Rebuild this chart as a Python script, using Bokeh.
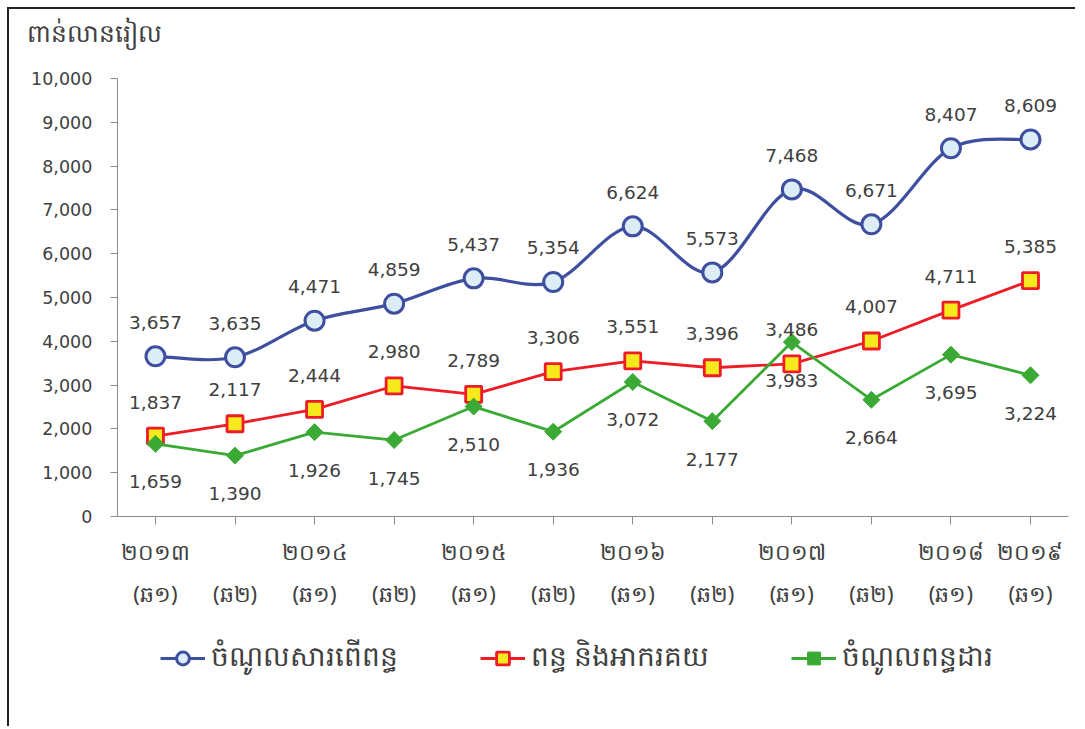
import math
from bokeh.plotting import figure
from bokeh.models import (FixedTicker, LinearAxis, Legend, LegendItem, Label,
                          ColumnDataSource, NumeralTickFormatter, Range1d)
from bokeh.core.properties import value
from bokeh.embed import file_html
from bokeh.resources import INLINE

# ---------------- data ----------------
years = ["២០១៣", "", "២០១៤", "", "២០១៥", "", "២០១៦", "", "២០១៧", "", "២០១៨", "២០១៩"]
halves = ["(ឆ១)", "(ឆ២)", "(ឆ១)", "(ឆ២)", "(ឆ១)", "(ឆ២)", "(ឆ១)", "(ឆ២)", "(ឆ១)", "(ឆ២)", "(ឆ១)", "(ឆ១)"]
tax_revenue = [3657, 3635, 4471, 4859, 5437, 5354, 6624, 5573, 7468, 6671, 8407, 8609]
customs = [1837, 2117, 2444, 2980, 2789, 3306, 3551, 3396, 3486, 4007, 4711, 5385]
tax_dept = [1659, 1390, 1926, 1745, 2510, 1936, 3072, 2177, 3983, 2664, 3695, 3224]
series_names = ["ចំណូលសារពើពន្ធ", "ពន្ធ និងអាករគយ", "ចំណូលពន្ធដារ"]
unit_title = "ពាន់លានរៀល"
y_ticks = list(range(0, 10001, 1000))

xs = list(range(len(halves)))

BLUE = "#3e4fa0"
RED = "#ee1c25"
GREEN = "#3aaa35"
TXT = "#404040"
AX = "#8c8c8c"
NUMFONT = "DejaVu Sans"
KHFONT = "Noto Sans"

# plotting area spans the whole canvas; axes are pinned inside it
X0, X1 = -0.48, 11.48          # category axis extent
Y0, Y1 = 0, 10000              # value axis extent
p = figure(width=1068, height=719, output_backend="svg", toolbar_location=None,
           x_range=Range1d(-1.835, 11.591), y_range=Range1d(-4840, 11575),
           min_border=0, x_axis_location=None, y_axis_location=None)
p.outline_line_color = None
p.xgrid.visible = False
p.ygrid.visible = False
p.styles = {"border-left": "2px solid #222", "border-top": "2px solid #222",
            "margin-left": "7px", "margin-top": "7px"}

# y axis
yax = LinearAxis(ticker=FixedTicker(ticks=y_ticks), formatter=NumeralTickFormatter(format="0,0"),
                 fixed_location=X0, bounds=(Y0, Y1))
yax.axis_line_color = AX
yax.major_tick_line_color = AX
yax.minor_tick_line_color = None
yax.major_tick_in = 0
yax.major_tick_out = 7
yax.major_label_text_font = NUMFONT
yax.major_label_text_font_size = "17.5px"
yax.major_label_text_color = TXT
yax.major_label_standoff = 18
p.add_layout(yax, "left")

# x axis: years row
xax = LinearAxis(ticker=FixedTicker(ticks=xs), fixed_location=Y0, bounds=(X0, X1))
xax.major_label_overrides = {i: years[i] for i in xs}
xax.axis_line_color = AX
xax.major_tick_line_color = AX
xax.minor_tick_line_color = None
xax.major_tick_in = 0
xax.major_tick_out = 8
xax.major_label_text_font = KHFONT
xax.major_label_text_font_size = "22px"
xax.major_label_text_color = TXT
xax.major_label_standoff = 11
p.add_layout(xax, "below")

# x axis: halves row
xax2 = LinearAxis(ticker=FixedTicker(ticks=xs), fixed_location=Y0, bounds=(X0, X1))
xax2.major_label_overrides = {i: halves[i] for i in xs}
xax2.axis_line_color = None
xax2.major_tick_line_color = None
xax2.minor_tick_line_color = None
xax2.major_tick_in = 0
xax2.major_tick_out = 0
xax2.major_label_text_font = KHFONT
xax2.major_label_text_font_size = "22px"
xax2.major_label_text_color = TXT
xax2.major_label_standoff = 61
p.add_layout(xax2, "below")

# smoothed blue line (Catmull-Rom -> cubic Bezier, as Excel smoothing)
n = len(xs)
bx0, by0, bx1, by1, cx0, cy0, cx1, cy1 = [], [], [], [], [], [], [], []
for i in range(n - 1):
    xm, ym = (xs[i - 1], tax_revenue[i - 1]) if i > 0 else (xs[i], tax_revenue[i])
    xp2, yp2 = (xs[i + 2], tax_revenue[i + 2]) if i + 2 < n else (xs[i + 1], tax_revenue[i + 1])
    bx0.append(xs[i]); by0.append(tax_revenue[i])
    bx1.append(xs[i + 1]); by1.append(tax_revenue[i + 1])
    cx0.append(xs[i] + (xs[i + 1] - xm) / 6.0)
    cy0.append(tax_revenue[i] + (tax_revenue[i + 1] - ym) / 6.0)
    cx1.append(xs[i + 1] - (xp2 - xs[i]) / 6.0)
    cy1.append(tax_revenue[i + 1] - (yp2 - tax_revenue[i]) / 6.0)
bsrc = ColumnDataSource(dict(x0=bx0, y0=by0, x1=bx1, y1=by1, cx0=cx0, cy0=cy0, cx1=cx1, cy1=cy1))
r_bline = p.bezier(x0="x0", y0="y0", x1="x1", y1="y1", cx0="cx0", cy0="cy0", cx1="cx1", cy1="cy1",
                   source=bsrc, line_color=BLUE, line_width=3.2)
r_bpt = p.scatter(xs, tax_revenue, marker="circle", size=19, fill_color="#dcedf5",
                  line_color=BLUE, line_width=3)

r_rline = p.line(xs, customs, line_color=RED, line_width=2.8)
r_rpt = p.scatter(xs, customs, marker="square", size=16, fill_color="#f7ea1c",
                  line_color=RED, line_width=2.8)

r_gline = p.line(xs, tax_dept, line_color=GREEN, line_width=2.8)
r_gpt = p.scatter(xs, tax_dept, marker="square", angle=math.pi / 4, size=12,
                  fill_color=GREEN, line_color=GREEN, line_width=1)

# data labels
def labels(vals, offset):
    src = ColumnDataSource(dict(x=xs, y=vals, t=[f"{v:,}" for v in vals]))
    p.text(x="x", y="y", text="t", source=src, y_offset=offset, text_align="center",
           text_baseline="middle", text_font=value(NUMFONT), text_font_size="18.5px",
           text_color=TXT)

labels(tax_revenue, -34)
labels(customs, -34)
labels(tax_dept, 38)

# unit title
p.add_layout(Label(x=-1.61, y=11050, text=unit_title, text_font=KHFONT, text_font_size="25px",
                   text_color=TXT, text_align="left", text_baseline="middle"))

legend = Legend(items=[
    LegendItem(label=series_names[0], renderers=[r_bline, r_bpt]),
    LegendItem(label=series_names[1], renderers=[r_rline, r_rpt]),
    LegendItem(label=series_names[2], renderers=[r_gline, r_gpt]),
], orientation="horizontal", location=(151, 48))
legend.border_line_color = None
legend.background_fill_alpha = 0
legend.glyph_width = 45
legend.glyph_height = 32
legend.spacing = 82
legend.label_text_font = KHFONT
legend.label_text_font_size = "28px"
legend.label_text_color = TXT
legend.label_standoff = 6
p.add_layout(legend, "center")

open("out.html", "w").write(file_html(p, INLINE))
